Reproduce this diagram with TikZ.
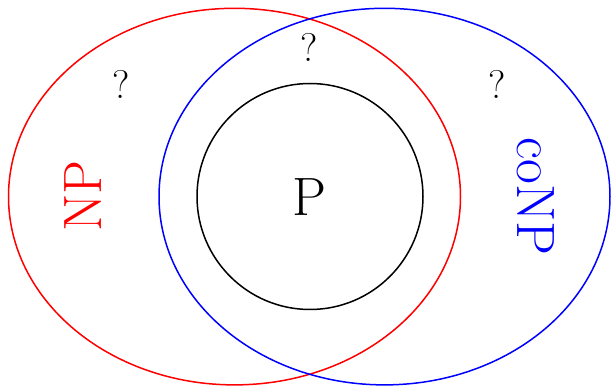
\documentclass[tikz,border=0pt]{standalone}
\usepackage{fontspec}
\usepackage{tikz}
\usetikzlibrary{positioning}

\begin{document}
\begin{tikzpicture}[
        x=1pt, y=-1pt,
        setline/.style={line width=1.5pt},
        biglabel/.style={font=\fontsize{54}{60}\selectfont, inner sep=0pt},
        qmark/.style={font=\fontsize{40}{46}\selectfont, inner sep=0pt},
    ]
    \useasboundingbox (0,0) rectangle (611,390);
    % CLASSES
    \draw[setline, red] (234.5,196.6) ellipse [x radius=226pt, y radius=188.3pt];
    \draw[setline, blue] (384.5,196.6) ellipse [x radius=225.5pt, y radius=188.3pt];
    \draw[setline, black] (310,196.5) circle [radius=113pt];
    % LABELS
    \node[biglabel] (p) at (309,197) {P};
    \node[biglabel, text=red, rotate=90] (np) at (83,196) {NP};
    \node[biglabel, text=blue, rotate=-90] (conp) at (536,196.5) {coNP};
    \node[qmark] (qleft) at (121.5,84) {?};
    \node[qmark] (qmid) at (309.5,47) {?};
    \node[qmark] (qright) at (497,84) {?};
\end{tikzpicture}
\end{document}
